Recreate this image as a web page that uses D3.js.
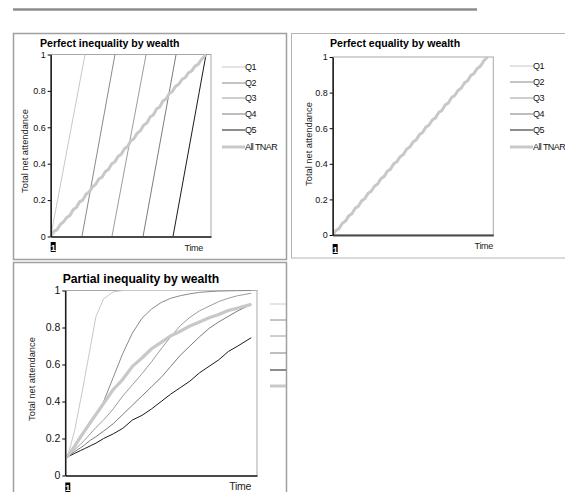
<!DOCTYPE html>
<html>
<head>
<meta charset="utf-8">
<script src="https://cdn.jsdelivr.net/npm/d3@7"></script>
<style>
  body { margin: 0; background: #fff; }
  svg { display: block; font-family: "Liberation Sans", Arial, sans-serif; }
</style>
</head>
<body>
<script>
const quintiles = ["Q1", "Q2", "Q3", "Q4", "Q5"];
const allLabel = "All TNAR";
const yTicks = [0, 0.2, 0.4, 0.6, 0.8, 1];
const titles = ["Perfect inequality by wealth", "Perfect equality by wealth", "Partial inequality by wealth"];
const yTitle = "Total net attendance";
const xTitle = "Time";
const xFirst = "1";

// perfect inequality: each quintile climbs 0 -> 1 inside its own window
const ineqStart = [0, 19.5, 38.2, 57.6, 76.3];
const ineqEnd = [21.4, 40.1, 59.5, 78.2, 96.9];
const ineqTnarT = [0, 2, 4, 6, 8, 10, 12, 14, 16, 18, 20, 22, 24, 26, 28, 30, 32, 34, 36, 38, 40, 42, 44, 46, 48,
  50, 52, 54, 56, 58, 60, 62, 64, 66, 68, 70, 72, 74, 76, 78, 80, 82, 84, 86, 88, 90, 92, 94, 96.9];
const ineqTnar = [0, 0.028, 0.038, 0.066, 0.080, 0.104, 0.116, 0.147, 0.160, 0.190, 0.200, 0.232, 0.244, 0.272, 0.286,
  0.316, 0.326, 0.356, 0.368, 0.398, 0.410, 0.440, 0.452, 0.482, 0.494, 0.526, 0.538, 0.568, 0.582, 0.612, 0.624,
  0.656, 0.668, 0.700, 0.712, 0.744, 0.756, 0.786, 0.798, 0.826, 0.838, 0.864, 0.874, 0.900, 0.910, 0.936, 0.946,
  0.972, 1];

// perfect equality: every quintile on the same path
const eqEnd = 96.3;
const eqTnarT = [0, 2, 4, 6, 8, 10, 12, 14, 16, 18, 20, 22, 24, 26, 28, 30, 32, 34, 36, 38, 40, 42, 44, 46, 48,
  50, 52, 54, 56, 58, 60, 62, 64, 66, 68, 70, 72, 74, 76, 78, 80, 82, 84, 86, 88, 90, 92, 94, 96.3];
const eqTnar = [0, 0.026, 0.036, 0.066, 0.078, 0.108, 0.120, 0.150, 0.162, 0.192, 0.204, 0.234, 0.246, 0.274, 0.286,
  0.316, 0.328, 0.358, 0.370, 0.400, 0.412, 0.440, 0.452, 0.482, 0.494, 0.522, 0.534, 0.564, 0.576, 0.606, 0.618,
  0.646, 0.658, 0.688, 0.700, 0.730, 0.742, 0.772, 0.784, 0.812, 0.824, 0.854, 0.866, 0.896, 0.908, 0.936, 0.948,
  0.978, 1];

// partial inequality
const partT = [1, 3, 5, 8, 10, 13, 16, 20, 25, 30, 35, 40, 45, 50, 55, 60, 65, 70, 75, 80, 85, 90, 97];
const partQ1 = [0.10, 0.17, 0.25, 0.41, 0.52, 0.69, 0.86, 0.955, 0.993, 1, 1, 1, 1, 1, 1, 1, 1, 1, 1, 1, 1, 1, 1];
const partQ2 = [0.10, 0.13, 0.16, 0.20, 0.235, 0.28, 0.33, 0.40, 0.53, 0.66, 0.77, 0.85, 0.90, 0.935, 0.958, 0.972,
  0.982, 0.99, 0.994, 0.997, 0.998, 0.999, 1];
const partQ3 = [0.10, 0.12, 0.14, 0.17, 0.19, 0.225, 0.26, 0.30, 0.36, 0.43, 0.49, 0.55, 0.615, 0.685, 0.75, 0.81,
  0.855, 0.89, 0.915, 0.94, 0.958, 0.972, 0.985];
const partQ4 = [0.10, 0.115, 0.13, 0.15, 0.165, 0.19, 0.21, 0.24, 0.28, 0.33, 0.38, 0.43, 0.48, 0.53, 0.59, 0.65,
  0.70, 0.75, 0.795, 0.83, 0.86, 0.89, 0.925];
const partQ5 = [0.10, 0.11, 0.12, 0.135, 0.145, 0.16, 0.175, 0.20, 0.225, 0.255, 0.30, 0.325, 0.36, 0.40, 0.44, 0.475,
  0.51, 0.555, 0.59, 0.625, 0.67, 0.70, 0.745];
const partTnar = [0.10, 0.13, 0.16, 0.21, 0.24, 0.285, 0.33, 0.39, 0.465, 0.52, 0.59, 0.635, 0.685, 0.72, 0.755, 0.78,
  0.808, 0.83, 0.853, 0.87, 0.892, 0.905, 0.925];

const qColors = ["#c8c8c8", "#8a8a8a", "#9c9c9c", "#7c7c7c", "#1a1a1a"];
const tnarColor = "#c8c8c8";

const zip = (t, v) => t.map((d, i) => [d, v[i]]);

const svg = d3.select("body").append("svg")
  .attr("width", 565)
  .attr("height", 492);

// top rule
svg.append("line")
  .attr("x1", 13).attr("x2", 477).attr("y1", 9.5).attr("y2", 9.5)
  .attr("stroke", "#8c8c8c").attr("stroke-width", 2.5);

// panel boxes
svg.append("rect").attr("x", 291.5).attr("y", 33.5).attr("width", 300).attr("height", 224.5)
  .attr("fill", "none").attr("stroke", "#b4b4b4").attr("stroke-width", 1);
svg.append("rect").attr("x", 13.5).attr("y", 33.5).attr("width", 273).attr("height", 226)
  .attr("fill", "none").attr("stroke", "#a0a0a0").attr("stroke-width", 1.5);
svg.append("rect").attr("x", 13.5).attr("y", 262.5).attr("width", 273).attr("height", 240)
  .attr("fill", "none").attr("stroke", "#a0a0a0").attr("stroke-width", 1.5);

svg.append("clipPath").attr("id", "clip3")
  .append("rect").attr("x", 14).attr("y", 263).attr("width", 272).attr("height", 240);

function drawPanel(o) {
  const g = svg.append("g");
  if (o.clip) g.attr("clip-path", `url(#${o.clip})`);

  const x = d3.scaleLinear().domain([0, 100]).range([o.x0, o.x1]);
  const y = d3.scaleLinear().domain([0, 1]).range([o.yb, o.yt]);

  // plot frame
  g.append("rect")
    .attr("x", o.x0).attr("y", o.yt)
    .attr("width", o.x1 - o.x0).attr("height", o.yb - o.yt)
    .attr("fill", "none").attr("stroke", "#a8a8a8").attr("stroke-width", 1);

  const line = d3.line().x(d => x(d[0])).y(d => y(d[1]));

  g.append("g").selectAll("path")
    .data(o.series)
    .enter().append("path")
    .attr("d", d => line(d.pts))
    .attr("fill", "none")
    .attr("stroke", d => d.color)
    .attr("stroke-width", d => d.w)
    .attr("stroke-linejoin", "round");

  // axes
  g.append("g")
    .attr("transform", `translate(0,${o.yb})`)
    .call(d3.axisBottom(x).tickValues([]).tickSizeOuter(0))
    .select(".domain").attr("stroke", "#4a4a4a").attr("stroke-width", 2);

  const ya = g.append("g")
    .attr("transform", `translate(${o.x0},0)`)
    .call(d3.axisLeft(y).tickValues(yTicks).tickSize(3).tickPadding(2).tickSizeOuter(0).tickFormat(d => d))
    .attr("font-family", null)
    .attr("font-size", o.fs);
  ya.select(".domain").attr("stroke", "#000").attr("stroke-width", 1.3);
  ya.selectAll("text").attr("fill", "#111");

  // titles
  g.append("text")
    .attr("x", o.titleX).attr("y", o.titleY)
    .attr("font-size", o.titleFs).attr("font-weight", "bold")
    .text(o.title);

  g.append("text")
    .attr("transform", `translate(${o.yTitleX},${o.yTitleY}) rotate(-90)`)
    .attr("text-anchor", "middle")
    .attr("font-size", 9.3)
    .attr("fill", "#222")
    .text(yTitle);

  g.append("rect")
    .attr("x", o.x0).attr("y", o.oneY)
    .attr("width", 5).attr("height", 10).attr("fill", "#000");
  g.append("text")
    .attr("x", o.x0 + 2.5).attr("y", o.oneY + 8.5)
    .attr("text-anchor", "middle")
    .attr("font-size", 9).attr("font-weight", "bold").attr("fill", "#fff")
    .text(xFirst);

  g.append("text")
    .attr("x", o.timeX).attr("y", o.timeY)
    .attr("text-anchor", "end")
    .attr("font-size", o.timeFs).attr("letter-spacing", -0.3)
    .attr("fill", "#222")
    .text(xTitle);

  // legend
  const entries = quintiles.map((q, i) => ({ label: q, color: qColors[i], w: 1 }))
    .concat([{ label: allLabel, color: tnarColor, w: 3 }]);
  const lg = g.append("g").selectAll("g")
    .data(entries)
    .enter().append("g")
    .attr("transform", (d, i) => `translate(0,${o.legY[i]})`);
  lg.append("line")
    .attr("x1", o.legX0).attr("x2", o.legX1)
    .attr("stroke", d => d.color).attr("stroke-width", d => d.w);
  lg.append("text")
    .attr("x", o.legX1).attr("y", 3.3)
    .attr("font-size", 9).attr("letter-spacing", -0.6)
    .attr("fill", "#111")
    .text(d => d.label);
}

drawPanel({
  x0: 50.7, x1: 211, yt: 54.5, yb: 236.5, fs: 9,
  title: titles[0], titleX: 40, titleY: 47, titleFs: 10.6,
  yTitleX: 27.5, yTitleY: 151,
  oneY: 242, timeX: 203, timeY: 251, timeFs: 9,
  legX0: 222, legX1: 245, legY: [67, 83, 98, 114, 130, 147],
  series: quintiles.map((q, i) => ({ pts: [[ineqStart[i], 0], [ineqEnd[i], 1]], color: qColors[i], w: 1 }))
    .concat([{ pts: zip(ineqTnarT, ineqTnar), color: tnarColor, w: 3 }])
});

drawPanel({
  x0: 332.7, x1: 493.3, yt: 57, yb: 235, fs: 9,
  title: titles[1], titleX: 330, titleY: 46.5, titleFs: 10.6,
  yTitleX: 311.5, yTitleY: 144,
  oneY: 244, timeX: 493, timeY: 248.5, timeFs: 9,
  legX0: 510, legX1: 533, legY: [66, 82, 98, 114, 130, 147],
  series: quintiles.map((q, i) => ({ pts: [[0, 0], [eqEnd, 1]], color: qColors[i], w: 1 }))
    .concat([{ pts: zip(eqTnarT, eqTnar), color: tnarColor, w: 3 }])
});

drawPanel({
  x0: 65.3, x1: 257, yt: 290.5, yb: 475.5, fs: 10.5, clip: "clip3",
  title: titles[2], titleX: 62.7, titleY: 283, titleFs: 12.2,
  yTitleX: 35, yTitleY: 379,
  oneY: 482.5, timeX: 251, timeY: 490, timeFs: 10.5,
  legX0: 270, legX1: 293, legY: [304, 320, 336, 353, 370, 386],
  series: [partQ1, partQ2, partQ3, partQ4, partQ5].map((v, i) => ({ pts: zip(partT, v), color: qColors[i], w: 1 }))
    .concat([{ pts: zip(partT, partTnar), color: tnarColor, w: 3.2 }])
});
</script>
</body>
</html>
